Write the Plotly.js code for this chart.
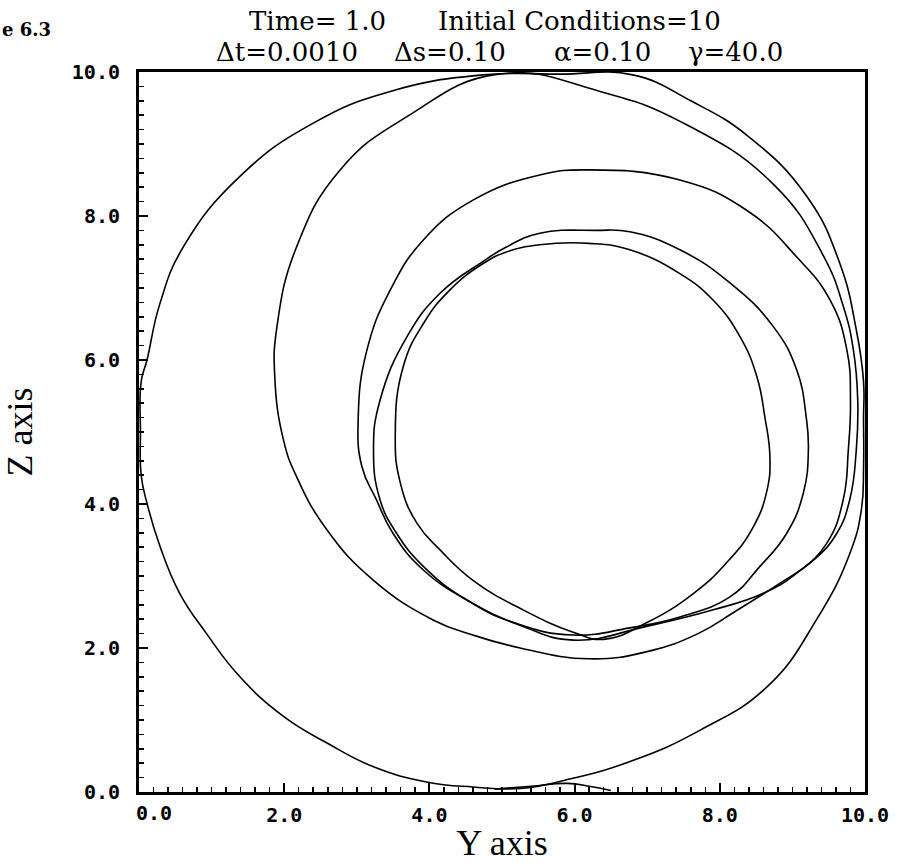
<!DOCTYPE html>
<html><head><meta charset="utf-8">
<script src="https://cdn.plot.ly/plotly-3.0.1.min.js"></script>
<style>html,body{margin:0;padding:0;background:#fff}</style>
</head><body>
<div id="chart" style="width:902px;height:863px"></div>
<script>
// Trajectories (horizontal = Y axis, vertical = Z axis)
const outerY = [5.8,4.74,3.46,2.40,1.39,0.61,0.29,0.11,0.03,0.02,0.03,0.11,0.29,0.56,0.93,1.39,1.99,2.59,3.23,3.96,4.60,5.25,5.89,6.81,7.73,8.65,9.33,9.79,9.95,9.98,9.98,9.98,9.88,9.65,9.2,8.4,7.6,6.8,5.8];
const outerZ = [9.97,9.96,9.73,9.29,8.55,7.57,6.79,6.0,5.7,5.0,4.4,4.01,3.41,2.76,2.20,1.60,1.05,0.68,0.35,0.14,0.07,0.05,0.17,0.44,0.86,1.46,2.39,3.31,3.92,4.5,5.2,5.7,6.42,7.35,8.27,9.1,9.6,9.96,9.97];

const lobeY = [4.9,5.4,5.9,6.2,6.5];
const lobeZ = [0.04,0.08,0.12,0.08,0.02];

const ringBY = [4.95,3.69,2.77,2.17,1.90,1.87,1.99,2.17,2.59,3.23,4.05,4.60,5.25,6.2,7.0,7.7,8.2,8.83,9.29,9.61,9.79,9.88,9.9,9.84,9.7,9.42,8.74,7.5,6.35,4.95];
const ringBZ = [9.97,9.38,8.64,7.57,6.46,5.77,4.89,4.38,3.64,2.94,2.39,2.18,2.0,1.85,1.95,2.2,2.5,2.90,3.22,3.59,4.06,4.75,5.44,6.14,6.75,7.46,8.44,9.29,9.73,9.97];

const ringCY = [6.2,5.52,4.60,3.92,3.46,3.14,3.02,3.07,3.27,3.50,3.92,4.60,5.29,5.98,6.99,7.91,8.60,9.06,9.47,9.70,9.77,9.80,9.75,9.52,9.06,8.37,7.45,6.2];
const ringCZ = [8.64,8.57,8.22,7.67,6.97,6.14,5.21,4.52,4.06,3.59,3.08,2.62,2.30,2.11,2.30,2.53,2.76,3.04,3.45,4.06,4.75,5.44,6.14,6.83,7.43,8.08,8.5,8.64];

const ringDY = [6.3,5.52,5.06,4.74,4.15,3.69,3.32,3.23,3.32,3.55,3.92,4.51,5.20,5.98,6.76,7.45,8.14,8.55,8.92,9.15,9.22,9.19,9.06,8.74,8.14,7.45,6.76,6.3];
const ringDZ = [7.8,7.76,7.57,7.37,6.93,6.32,5.44,4.75,4.06,3.59,3.13,2.67,2.34,2.18,2.28,2.43,2.71,3.13,3.59,4.15,4.75,5.21,5.86,6.46,7.07,7.53,7.78,7.8];

const ringEY = [6.2,5.52,5.06,4.74,4.28,3.92,3.64,3.53,3.60,3.83,4.15,4.60,5.29,5.98,6.4,6.99,7.64,8.09,8.46,8.65,8.69,8.62,8.51,8.28,7.91,7.45,6.76,6.2];
const ringEZ = [7.62,7.60,7.50,7.34,6.97,6.51,5.91,4.98,4.29,3.73,3.36,2.94,2.53,2.22,2.12,2.35,2.76,3.18,3.68,4.19,4.66,5.21,5.77,6.32,6.83,7.20,7.53,7.62];

const xTickVals = [0,2,4,6,8,10];
const xTickText = ['','2.0','4.0','6.0','8.0','10.0'];
const yTickVals = [0,2,4,6,8,10];
const yTickText = ['0.0','2.0','4.0','6.0','8.0','10.0'];

// Title pieces, line 1 and line 2
const titleParts1 = ['Time=\u00a01.0', 'Initial Conditions=10'];
const titleParts2 = ['\u0394t=0.0010', '\u0394s=0.10', '\u03b1=0.10', '\u03b3=40.0'];
const titleLeft1 = [247, 436];
const titleLeft2 = [214, 392, 552, 686];

const series = [[outerY,outerZ],[lobeY,lobeZ],[ringBY,ringBZ],[ringCY,ringCZ],[ringDY,ringDZ],[ringEY,ringEZ]];
const traces = series.map(s => ({
  x: s[0], y: s[1], type: 'scatter', mode: 'lines',
  line: {color: '#000', width: 1.6, shape: 'spline', smoothing: 1.3},
  hoverinfo: 'skip', showlegend: false
}));

const tickFont = {family: 'DejaVu Sans Mono', size: 20, color: '#000', weight: 'bold'};
const titleFont = {family: 'DejaVu Serif', size: 26, color: '#000'};
const axisTitleFont = {family: 'Liberation Serif', size: 36, color: '#000'};
const axisCommon = {
  range: [0, 10], showgrid: false, zeroline: false,
  showline: true, linewidth: 3, linecolor: '#000', mirror: true,
  ticks: 'inside', ticklen: 9, tickwidth: 2, tickcolor: '#000',
  minor: {tickmode: 'linear', tick0: 0, dtick: 0.2, ticks: 'inside', ticklen: 5, tickwidth: 1.5, tickcolor: '#000'},
  tickfont: tickFont, automargin: false
};

const PL = 139, PW = 726, PB = 792, PH = 720;
const ann = [];
titleParts1.forEach((t, i) => ann.push({text: t, xref: 'paper', yref: 'paper', x: (titleLeft1[i]-PL)/PW, y: (PB-21)/PH,
  xanchor: 'left', yanchor: 'middle', showarrow: false, font: titleFont}));
titleParts2.forEach((t, i) => ann.push({text: t, xref: 'paper', yref: 'paper', x: (titleLeft2[i]-PL)/PW, y: (PB-52)/PH,
  xanchor: 'left', yanchor: 'middle', showarrow: false, font: titleFont}));
ann.push({text: 'e 6.3', xref: 'paper', yref: 'paper', x: -PL/PW, y: (PB-30)/PH, xanchor: 'left', yanchor: 'middle',
  showarrow: false, font: {family: 'DejaVu Serif', size: 18, color: '#000', weight: 'bold'}});
ann.push({text: '0.0', xref: 'x', yref: 'paper', x: 0.2, y: -21/PH, xanchor: 'center', yanchor: 'middle',
  showarrow: false, font: tickFont});

const layout = {
  width: 902, height: 863,
  margin: {l: PL, r: 902-PL-PW, t: PB-PH, b: 863-PB},
  paper_bgcolor: '#fff', plot_bgcolor: '#fff',
  showlegend: false,
  xaxis: Object.assign({}, axisCommon, {
    tickmode: 'array', tickvals: xTickVals, ticktext: xTickText, ticklabelstandoff: 3,
    title: {text: 'Y axis', font: axisTitleFont, standoff: 7}
  }),
  yaxis: Object.assign({}, axisCommon, {
    tickmode: 'array', tickvals: yTickVals, ticktext: yTickText, ticklabelstandoff: 12,
    title: {text: 'Z axis', font: axisTitleFont, standoff: 29}
  }),
  annotations: ann
};

Plotly.newPlot('chart', traces, layout, {staticPlot: true});
</script></body></html>
